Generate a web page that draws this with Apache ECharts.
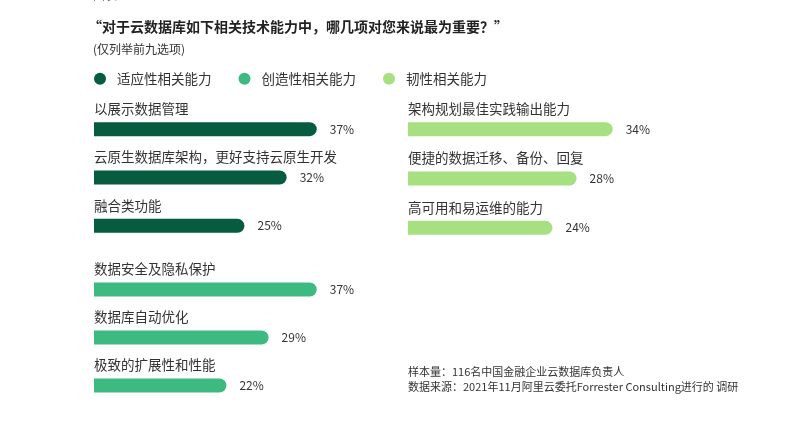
<!DOCTYPE html>
<html>
<head>
<meta charset="utf-8">
<script src="https://cdn.jsdelivr.net/npm/echarts@6/dist/echarts.min.js"></script>
<style>
html, body { margin: 0; padding: 0; background: #fff; }
#main { width: 807px; height: 423px; }
</style>
</head>
<body>
<div id="main"></div>
<script>
var seriesNames = ['适应性相关能力', '创造性相关能力', '韧性相关能力'];
var colors = ['#075c3f', '#3dba80', '#a6e081'];

// 适应性
var adaptCats = ['以展示数据管理', '云原生数据库架构，更好支持云原生开发', '融合类功能'];
var adaptVals = [37, 32, 25];
// 创造性
var createCats = ['数据安全及隐私保护', '数据库自动优化', '极致的扩展性和性能'];
var createVals = [37, 29, 22];
// 韧性
var resilCats = ['架构规划最佳实践输出能力', '便捷的数据迁移、备份、回复', '高可用和易运维的能力'];
var resilVals = [34, 28, 24];

var groups = [
	{cats: adaptCats, vals: adaptVals, grid: {left: 94, top: 105, width: 301, height: 145}},
	{cats: createCats, vals: createVals, grid: {left: 94, top: 265.5, width: 301, height: 144}},
	{cats: resilCats, vals: resilVals, grid: {left: 408, top: 104.5, width: 301, height: 148}}
];

var grids = [], xAxes = [], yAxes = [], series = [];
groups.forEach(function(g, i) {
	grids.push(g.grid);
	xAxes.push({type: 'value', gridIndex: i, min: 0, max: 50, show: false});
	yAxes.push({type: 'category', gridIndex: i, data: g.cats, inverse: true, show: false});
	// bar with category name above
	series.push({
		name: seriesNames[i],
		type: 'bar',
		xAxisIndex: i,
		yAxisIndex: i,
		data: g.vals,
		barWidth: 14,
		itemStyle: {color: colors[i], borderRadius: [0, 7, 7, 0]},
		label: {
			show: true,
			position: [0, -20],
			formatter: '{b}',
			fontSize: 13.5,
			color: '#333',
			fontFamily: 'Noto Sans CJK SC'
		},
		silent: true
	});
	// transparent copy for the value labels
	series.push({
		name: 'v' + i,
		type: 'bar',
		xAxisIndex: i,
		yAxisIndex: i,
		data: g.vals,
		barWidth: 14,
		barGap: '-100%',
		itemStyle: {color: 'rgba(0,0,0,0)'},
		label: {
			show: true,
			position: 'right',
			distance: 13,
			formatter: '{c}%',
			fontSize: 12,
			color: '#333',
			fontFamily: 'Noto Sans CJK SC'
		},
		silent: true
	});
});

var option = {
	backgroundColor: '#fff',
	animation: false,
	title: [{
		left: 83,
		top: 15,
		text: '“对于云数据库如下相关技术能力中，哪几项对您来说最为重要？”',
		textStyle: {fontSize: 14, fontWeight: 'bold', color: '#222', fontFamily: 'Noto Sans CJK SC'}
	}, {
		left: 88,
		top: 38,
		text: '(仅列举前九选项)',
		textStyle: {fontSize: 12, fontWeight: 'normal', color: '#333', fontFamily: 'Noto Sans CJK SC'}
	}],
	legend: {
		left: 89,
		top: 67,
		icon: 'circle',
		itemWidth: 12,
		itemHeight: 12,
		itemGap: 27,
		data: seriesNames,
		textStyle: {fontSize: 13.5, color: '#333', padding: [0, 0, 0, 6], fontFamily: 'Noto Sans CJK SC'}
	},
	graphic: [
		{type: 'text', left: 93, top: -11, style: {text: '图表1', fill: '#333', font: '12px "Noto Sans CJK SC"'}},
		{type: 'text', left: 408, top: 366, style: {text: '样本量：116名中国金融企业云数据库负责人', fill: '#333', font: '11px "Noto Sans CJK SC"'}},
		{type: 'text', left: 408, top: 381, style: {text: '数据来源：2021年11月阿里云委托Forrester Consulting进行的 调研', fill: '#333', font: '11px "Noto Sans CJK SC"'}}
	],
	grid: grids,
	xAxis: xAxes,
	yAxis: yAxes,
	series: series
};

var chart = echarts.init(document.getElementById('main'));
chart.setOption(option);
</script>
</body>
</html>
